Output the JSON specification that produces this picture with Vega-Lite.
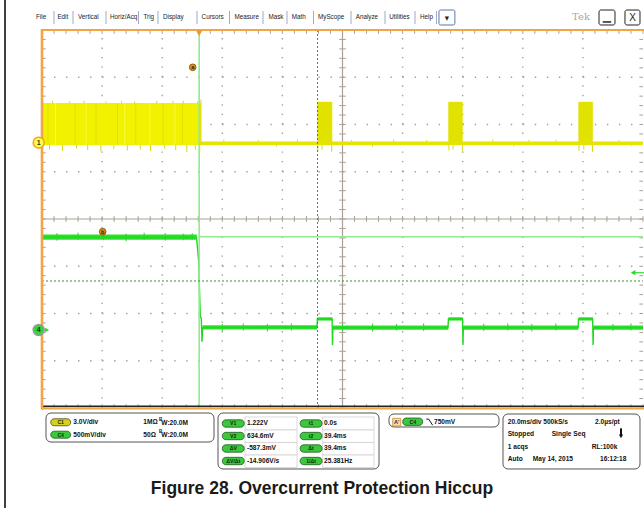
{
  "$schema": "https://vega.github.io/schema/vega-lite/v6.json",
  "width": 601,
  "height": 378,
  "autosize": {"type": "none"},
  "padding": {"left": 42, "top": 30, "right": 1, "bottom": 100},
  "background": "white",
  "config": {"view": {"stroke": null}, "text": {"font": "Liberation Sans"}},
  "datasets": {
    "xt": [{"x":0},{"x":4},{"x":8},{"x":12},{"x":16},{"x":20},{"x":24},{"x":28},{"x":32},{"x":36},{"x":40},{"x":44},{"x":48},{"x":52},{"x":56},{"x":60},{"x":64},{"x":68},{"x":72},{"x":76},{"x":80},{"x":84},{"x":88},{"x":92},{"x":96},{"x":100},{"x":104},{"x":108},{"x":112},{"x":116},{"x":120},{"x":124},{"x":128},{"x":132},{"x":136},{"x":140},{"x":144},{"x":148},{"x":152},{"x":156},{"x":160},{"x":164},{"x":168},{"x":172},{"x":176},{"x":180},{"x":184},{"x":188},{"x":192},{"x":196},{"x":200}],
    "yt": [{"y":-4},{"y":-3.8},{"y":-3.6},{"y":-3.4},{"y":-3.2},{"y":-3},{"y":-2.8},{"y":-2.6},{"y":-2.4},{"y":-2.2},{"y":-2},{"y":-1.8},{"y":-1.6},{"y":-1.4},{"y":-1.2},{"y":-1},{"y":-0.8},{"y":-0.6},{"y":-0.4},{"y":-0.2},{"y":0},{"y":0.2},{"y":0.4},{"y":0.6},{"y":0.8},{"y":1},{"y":1.2},{"y":1.4},{"y":1.6},{"y":1.8},{"y":2},{"y":2.2},{"y":2.4},{"y":2.6},{"y":2.8},{"y":3},{"y":3.2},{"y":3.4},{"y":3.6},{"y":3.8},{"y":4}],
    "gv": [{"x":20,"y":-4,"y2":4},{"x":40,"y":-4,"y2":4},{"x":60,"y":-4,"y2":4},{"x":80,"y":-4,"y2":4},{"x":120,"y":-4,"y2":4},{"x":140,"y":-4,"y2":4},{"x":160,"y":-4,"y2":4},{"x":180,"y":-4,"y2":4}],
    "gh": [{"y":-3,"x":0,"x2":200},{"y":-2,"x":0,"x2":200},{"y":-1,"x":0,"x2":200},{"y":1,"x":0,"x2":200},{"y":2,"x":0,"x2":200},{"y":3,"x":0,"x2":200}],
    "axes": [{"x":100,"x2":100,"y":-4,"y2":4},{"x":0,"x2":200,"y":0,"y2":0}],
    "y1main": [{"x":0,"x2":52.9,"y":1.566,"y2":2.455}],
    "y1burst": [{"x":91.6,"x2":96.6,"y":1.566,"y2":2.48},{"x":135.2,"x2":140.0,"y":1.566,"y2":2.48},{"x":178.5,"x2":183.3,"y":1.566,"y2":2.48}],
    "y1base": [{"x":52.9,"x2":200,"y":1.568,"y2":1.642}],
    "y1light": [{"x":4.5,"y":1.57,"y2":2.45},{"x":14.7,"y":1.57,"y2":2.45},{"x":27.5,"y":1.57,"y2":2.45},{"x":35.9,"y":1.57,"y2":2.45},{"x":44.2,"y":1.57,"y2":2.45}],
    "y1dark": [{"x":2.0,"y":1.57,"y2":2.45},{"x":11.0,"y":1.57,"y2":2.45},{"x":18.0,"y":1.57,"y2":2.45},{"x":25.1,"y":1.57,"y2":2.45},{"x":31.2,"y":1.57,"y2":2.45},{"x":40.3,"y":1.57,"y2":2.45},{"x":46.7,"y":1.57,"y2":2.45}],
    "y1sp": [
      {"x":2.5,"y":1.57,"y2":1.47},{"x":6.8,"y":1.57,"y2":1.44},{"x":11.5,"y":1.57,"y2":1.49},{"x":15.2,"y":1.57,"y2":1.46},{"x":19.6,"y":1.57,"y2":1.43},{"x":23.9,"y":1.57,"y2":1.48},{"x":28.4,"y":1.57,"y2":1.45},{"x":32.7,"y":1.57,"y2":1.47},{"x":36.1,"y":1.57,"y2":1.44},{"x":40.8,"y":1.57,"y2":1.49},{"x":44.5,"y":1.57,"y2":1.46},{"x":48.2,"y":1.57,"y2":1.42},{"x":51.0,"y":1.57,"y2":1.47},
      {"x":3.5,"y":2.45,"y2":2.50},{"x":9.2,"y":2.45,"y2":2.49},{"x":14.0,"y":2.45,"y2":2.50},{"x":21.3,"y":2.45,"y2":2.49},{"x":26.5,"y":2.45,"y2":2.50},{"x":30.8,"y":2.45,"y2":2.49},{"x":38.2,"y":2.45,"y2":2.50},{"x":43.6,"y":2.45,"y2":2.49},{"x":47.0,"y":2.45,"y2":2.50},{"x":51.8,"y":2.45,"y2":2.49},
      {"x":52.9,"y":1.57,"y2":2.53},{"x":52.5,"y":1.57,"y2":1.42},
      {"x":60.5,"y":1.64,"y2":1.68},{"x":72,"y":1.64,"y2":1.67},{"x":85,"y":1.64,"y2":1.68},{"x":103,"y":1.64,"y2":1.67},{"x":117,"y":1.64,"y2":1.68},{"x":128,"y":1.64,"y2":1.67},{"x":150,"y":1.64,"y2":1.68},{"x":162,"y":1.64,"y2":1.67},{"x":171,"y":1.64,"y2":1.68},{"x":192,"y":1.64,"y2":1.67},
      {"x":78,"y":1.57,"y2":1.53},{"x":110,"y":1.57,"y2":1.53},{"x":157,"y":1.57,"y2":1.53},{"x":196,"y":1.57,"y2":1.54},
      {"x":91.8,"y":1.57,"y2":1.43},{"x":93.2,"y":1.57,"y2":1.47},{"x":96.4,"y":1.57,"y2":1.42},{"x":135.4,"y":1.57,"y2":1.45},{"x":136.8,"y":1.57,"y2":1.47},{"x":139.9,"y":1.57,"y2":1.42},{"x":178.7,"y":1.57,"y2":1.44},{"x":180.3,"y":1.57,"y2":1.47},{"x":183.2,"y":1.57,"y2":1.42}
    ],
    "g4band": [{"x":0,"x2":51.5,"y":-0.33,"y2":-0.44},{"x":53.4,"x2":91.55,"y":-2.25,"y2":-2.34},{"x":91.65,"x2":96.6,"y":-2.08,"y2":-2.15},{"x":96.75,"x2":135.15,"y":-2.255,"y2":-2.345},{"x":135.25,"x2":140.05,"y":-2.08,"y2":-2.15},{"x":140.15,"x2":178.45,"y":-2.255,"y2":-2.345},{"x":178.55,"x2":183.35,"y":-2.08,"y2":-2.15},{"x":183.45,"x2":200,"y":-2.255,"y2":-2.345}],
    "g4line": [{"x":0,"y":-0.385},{"x":51.4,"y":-0.39},{"x":51.48,"y":-0.43},{"x":51.81,"y":-0.656},{"x":52.25,"y":-0.974},{"x":52.41,"y":-1.503},{"x":52.68,"y":-2.068},{"x":53.01,"y":-2.095},{"x":53.24,"y":-2.597},{"x":53.44,"y":-2.30},{"x":91.5,"y":-2.28},{"x":91.65,"y":-2.116},{"x":96.55,"y":-2.116},{"x":96.67,"y":-2.667},{"x":96.8,"y":-2.30},{"x":135.1,"y":-2.30},{"x":135.25,"y":-2.116},{"x":139.95,"y":-2.116},{"x":140.1,"y":-2.667},{"x":140.2,"y":-2.30},{"x":178.4,"y":-2.30},{"x":178.55,"y":-2.116},{"x":183.25,"y":-2.116},{"x":183.4,"y":-2.667},{"x":183.5,"y":-2.30},{"x":200,"y":-2.30}],
    "g4sp": [{"x":5,"y":-0.30,"y2":-0.46},{"x":12,"y":-0.29,"y2":-0.44},{"x":20.5,"y":-0.30,"y2":-0.45},{"x":28,"y":-0.31,"y2":-0.47},{"x":34,"y":-0.29,"y2":-0.44},{"x":41,"y":-0.30,"y2":-0.46},{"x":47,"y":-0.31,"y2":-0.45},{"x":50,"y":-0.30,"y2":-0.44},{"x":60,"y":-2.22,"y2":-2.37},{"x":67,"y":-2.21,"y2":-2.36},{"x":75,"y":-2.22,"y2":-2.38},{"x":83,"y":-2.21,"y2":-2.36},{"x":100,"y":-2.22,"y2":-2.37},{"x":110,"y":-2.21,"y2":-2.38},{"x":118,"y":-2.22,"y2":-2.36},{"x":127,"y":-2.21,"y2":-2.37},{"x":147,"y":-2.22,"y2":-2.37},{"x":155,"y":-2.21,"y2":-2.36},{"x":163,"y":-2.22,"y2":-2.38},{"x":171,"y":-2.21,"y2":-2.36},{"x":190,"y":-2.22,"y2":-2.37},{"x":196,"y":-2.21,"y2":-2.36}],
    "cursSolid": [{"x":52.3,"x2":52.3,"y":-4,"y2":4},{"x":52.3,"x2":200,"y":-0.375,"y2":-0.375}],
    "cursDash": [{"x":91.7,"x2":91.7,"y":-4,"y2":4},{"x":0,"x2":200,"y":-1.312,"y2":-1.312}],
    "orangeV": [{"x":0,"x2":0,"y":-4.03,"y2":4.02}],
    "orangeH": [{"x":0,"x2":200.33,"y":4.0,"y2":4.0},{"x":0,"x2":200.33,"y":-4.01,"y2":-4.01}],
    "blackH": [{"x":0,"x2":200.33,"y":-3.965,"y2":-3.965}],
    "figBorder": [{"x":-12.31,"x2":-12.31,"y":-6.12,"y2":4.64}],
    "trigTop": [{"x":52.3,"y":3.93}],
    "trigLvl": [{"x":196.7,"y":-1.137}],
    "trigLvlLine": [{"x":197.3,"x2":200.33,"y":-1.137,"y2":-1.137}],
    "ch1": [{"x":-1.1,"y":1.615,"t":"1"}],
    "ch4": [{"x":-1.1,"y":-2.349,"t":"4"}],
    "ch4arrow": [{"x":1.7,"y":-2.349}],
    "ab": [{"x":50.15,"y":3.211,"t":"a"},{"x":20.2,"y":-0.269,"t":"b"}],
    "menu": [{"x":-2.0,"y":4.265,"t":"File"},{"x":5.12,"y":4.265,"t":"Edit"},{"x":11.98,"y":4.265,"t":"Vertical"},{"x":22.63,"y":4.265,"t":"Horiz/Acq"},{"x":33.78,"y":4.265,"t":"Trig"},{"x":40.27,"y":4.265,"t":"Display"},{"x":53.11,"y":4.265,"t":"Cursors"},{"x":64.03,"y":4.265,"t":"Measure"},{"x":75.34,"y":4.265,"t":"Mask"},{"x":83.13,"y":4.265,"t":"Math"},{"x":91.85,"y":4.265,"t":"MyScope"},{"x":104.39,"y":4.265,"t":"Analyze"},{"x":115.57,"y":4.265,"t":"Utilities"},{"x":125.79,"y":4.265,"t":"Help"}],
    "sep": [{"x":3.99,"y":4.402,"y2":4.127},{"x":10.32,"y":4.402,"y2":4.127},{"x":21.30,"y":4.402,"y2":4.127},{"x":32.11,"y":4.402,"y2":4.127},{"x":38.60,"y":4.402,"y2":4.127},{"x":51.58,"y":4.402,"y2":4.127},{"x":62.40,"y":4.402,"y2":4.127},{"x":73.54,"y":4.402,"y2":4.127},{"x":81.53,"y":4.402,"y2":4.127},{"x":90.35,"y":4.402,"y2":4.127},{"x":102.83,"y":4.402,"y2":4.127},{"x":114.14,"y":4.402,"y2":4.127},{"x":124.13,"y":4.402,"y2":4.127},{"x":131.28,"y":4.402,"y2":4.127}],
    "menubox": [{"x":132.1,"x2":137.4,"y":4.106,"y2":4.423}],
    "winbox": [{"x":185.36,"x2":190.68,"y":4.106,"y2":4.423},{"x":194.0,"x2":199.0,"y":4.106,"y2":4.423}],
    "minusbar": [{"x":186.6,"x2":189.4,"y":4.17,"y2":4.17}],
    "drop": [{"x":134.75,"y":4.26,"t":"▼"}],
    "xbtn": [{"x":196.5,"y":4.26,"t":"X"}],
    "tek": [{"x":176.4,"y":4.265,"t":"Tek"}],
    "boxes": [{"x":1.33,"x2":57.24,"y":-4.106,"y2":-4.720},{"x":58.57,"x2":112.15,"y":-4.106,"y2":-5.291},{"x":115.47,"x2":152.08,"y":-4.127,"y2":-4.402},{"x":153.41,"x2":199.0,"y":-4.127,"y2":-5.291}],
    "cells": [{"x":67.55,"x2":84.86,"y":-4.190,"y2":-4.466},{"x":67.55,"x2":84.86,"y":-4.466,"y2":-4.730},{"x":67.55,"x2":84.86,"y":-4.730,"y2":-4.995},{"x":67.55,"x2":84.86,"y":-4.995,"y2":-5.259},{"x":93.41,"x2":110.48,"y":-4.190,"y2":-4.466},{"x":93.41,"x2":110.48,"y":-4.466,"y2":-4.730},{"x":93.41,"x2":110.48,"y":-4.730,"y2":-4.995},{"x":93.41,"x2":110.48,"y":-4.995,"y2":-5.259}],
    "pillY": [{"x":2.9,"x2":9.55,"y":-4.228,"y2":-4.376}],
    "pillG": [{"x":2.9,"x2":9.55,"y":-4.491,"y2":-4.639},{"x":60.0,"x2":67.3,"y":-4.250,"y2":-4.406},{"x":60.0,"x2":67.3,"y":-4.515,"y2":-4.671},{"x":60.0,"x2":67.3,"y":-4.779,"y2":-4.935},{"x":60.0,"x2":67.3,"y":-5.044,"y2":-5.200},{"x":85.9,"x2":93.2,"y":-4.250,"y2":-4.406},{"x":85.9,"x2":93.2,"y":-4.515,"y2":-4.671},{"x":85.9,"x2":93.2,"y":-4.779,"y2":-4.935},{"x":85.9,"x2":93.2,"y":-5.044,"y2":-5.200},{"x":120.03,"x2":126.69,"y":-4.212,"y2":-4.368}],
    "pillT": [{"x":6.22,"y":-4.302,"t":"C1"},{"x":6.22,"y":-4.565,"t":"C4"},{"x":63.65,"y":-4.328,"t":"V1"},{"x":63.65,"y":-4.593,"t":"V2"},{"x":63.65,"y":-4.857,"t":"ΔV"},{"x":63.65,"y":-5.122,"t":"ΔV/Δt"},{"x":89.55,"y":-4.328,"t":"t1"},{"x":89.55,"y":-4.593,"t":"t2"},{"x":89.55,"y":-4.857,"t":"Δt"},{"x":89.55,"y":-5.122,"t":"1/Δt"},{"x":123.36,"y":-4.290,"t":"C4"}],
    "abox": [{"x":116.71,"x2":119.37,"y":-4.218,"y2":-4.381}],
    "aboxT": [{"x":118.04,"y":-4.30,"t":"A'"}],
    "fe": [{"x":127.9,"y":-4.235},{"x":128.7,"y":-4.236},{"x":130.0,"y":-4.365}],
    "info": [{"x":10.42,"y":-4.302,"t":"3.0V/div"},{"x":10.42,"y":-4.565,"t":"500mV/div"},{"x":33.71,"y":-4.302,"t":"1MΩ"},{"x":33.71,"y":-4.565,"t":"50Ω"},{"x":39.7,"y":-4.312,"t":"W:20.0M"},{"x":39.7,"y":-4.575,"t":"W:20.0M"},
      {"x":68.22,"y":-4.328,"t":"1.222V"},{"x":68.22,"y":-4.593,"t":"634.6mV"},{"x":68.22,"y":-4.857,"t":"-587.3mV"},{"x":68.22,"y":-5.122,"t":"-14.906V/s"},{"x":93.84,"y":-4.328,"t":"0.0s"},{"x":93.84,"y":-4.593,"t":"39.4ms"},{"x":93.84,"y":-4.857,"t":"39.4ms"},{"x":93.84,"y":-5.122,"t":"25.381Hz"},
      {"x":130.45,"y":-4.290,"t":"750mV"},
      {"x":154.98,"y":-4.290,"t":"20.0ms/div 500kS/s"},{"x":184.03,"y":-4.290,"t":"2.0µs/pt"},{"x":154.98,"y":-4.555,"t":"Stopped"},{"x":169.62,"y":-4.555,"t":"Single Seq"},{"x":154.98,"y":-4.819,"t":"1 acqs"},{"x":182.93,"y":-4.819,"t":"RL:100k"},{"x":154.98,"y":-5.086,"t":"Auto"},{"x":163.30,"y":-5.086,"t":"May 14, 2015"},{"x":185.69,"y":-5.086,"t":"16:12:18"}],
    "bsup": [{"x":38.9,"y":-4.25,"t":"B"},{"x":38.9,"y":-4.513,"t":"B"}],
    "darrowLine": [{"x":192.68,"x2":192.68,"y":-4.43,"y2":-4.58}],
    "darrowHead": [{"x":192.68,"y":-4.60}],
    "caption": [{"x":93.18,"y":-5.714,"t":"Figure 28. Overcurrent Protection Hiccup"}]
  },
  "layer": [
    {"data": {"name": "gv"}, "mark": {"type": "rule", "color": "#a0a0a0", "strokeWidth": 1.4, "strokeDash": [1.4, 8.05]},
     "encoding": {"x": {"field": "x", "type": "quantitative", "scale": {"domain": [0, 200], "nice": false, "zero": false}, "axis": null}, "y": {"field": "y", "type": "quantitative", "scale": {"domain": [-4, 4], "nice": false, "zero": false}, "axis": null}, "y2": {"field": "y2"}}},
    {"data": {"name": "gh"}, "mark": {"type": "rule", "color": "#a0a0a0", "strokeWidth": 1.4, "strokeDash": [1.4, 10.62]},
     "encoding": {"x": {"field": "x", "type": "quantitative", "axis": null}, "y": {"field": "y", "type": "quantitative", "axis": null}, "x2": {"field": "x2"}}},
    {"data": {"name": "axes"}, "mark": {"type": "rule", "color": "#a8a094", "strokeWidth": 1.2},
     "encoding": {"x": {"field": "x", "type": "quantitative", "axis": null}, "y": {"field": "y", "type": "quantitative", "axis": null}, "x2": {"field": "x2"}, "y2": {"field": "y2"}}},
    {"data": {"name": "xt"}, "mark": {"type": "rule", "color": "#a8a094", "strokeWidth": 1},
     "encoding": {"x": {"field": "x", "type": "quantitative", "axis": null}, "y": {"datum": -0.06, "type": "quantitative", "axis": null}, "y2": {"datum": 0.06}}},
    {"data": {"name": "xt"}, "mark": {"type": "rule", "color": "#a8a094", "strokeWidth": 1},
     "encoding": {"x": {"field": "x", "type": "quantitative", "axis": null}, "y": {"datum": 4, "type": "quantitative", "axis": null}, "y2": {"datum": 3.92}}},
    {"data": {"name": "xt"}, "mark": {"type": "rule", "color": "#a8a094", "strokeWidth": 1},
     "encoding": {"x": {"field": "x", "type": "quantitative", "axis": null}, "y": {"datum": -4, "type": "quantitative", "axis": null}, "y2": {"datum": -3.92}}},
    {"data": {"name": "yt"}, "mark": {"type": "rule", "color": "#a8a094", "strokeWidth": 1},
     "encoding": {"y": {"field": "y", "type": "quantitative", "axis": null}, "x": {"datum": 98.9, "type": "quantitative", "axis": null}, "x2": {"datum": 101.1}}},
    {"data": {"name": "yt"}, "mark": {"type": "rule", "color": "#a8a094", "strokeWidth": 1},
     "encoding": {"y": {"field": "y", "type": "quantitative", "axis": null}, "x": {"datum": 0, "type": "quantitative", "axis": null}, "x2": {"datum": 1.2}}},
    {"data": {"name": "yt"}, "mark": {"type": "rule", "color": "#a8a094", "strokeWidth": 1},
     "encoding": {"y": {"field": "y", "type": "quantitative", "axis": null}, "x": {"datum": 200, "type": "quantitative", "axis": null}, "x2": {"datum": 198.8}}},

    {"data": {"name": "y1main"}, "mark": {"type": "rect", "color": "#f2f200"},
     "encoding": {"x": {"field": "x", "type": "quantitative", "axis": null}, "y": {"field": "y", "type": "quantitative", "axis": null}, "x2": {"field": "x2"}, "y2": {"field": "y2"}}},
    {"data": {"name": "y1light"}, "mark": {"type": "rule", "color": "#fafa3a", "strokeWidth": 1},
     "encoding": {"x": {"field": "x", "type": "quantitative", "axis": null}, "y": {"field": "y", "type": "quantitative", "axis": null}, "y2": {"field": "y2"}}},
    {"data": {"name": "y1dark"}, "mark": {"type": "rule", "color": "#e0e000", "strokeWidth": 1},
     "encoding": {"x": {"field": "x", "type": "quantitative", "axis": null}, "y": {"field": "y", "type": "quantitative", "axis": null}, "y2": {"field": "y2"}}},
    {"data": {"name": "y1burst"}, "mark": {"type": "rect", "color": "#e2e200"},
     "encoding": {"x": {"field": "x", "type": "quantitative", "axis": null}, "y": {"field": "y", "type": "quantitative", "axis": null}, "x2": {"field": "x2"}, "y2": {"field": "y2"}}},
    {"data": {"name": "y1base"}, "mark": {"type": "rect", "color": "#e4e400"},
     "encoding": {"x": {"field": "x", "type": "quantitative", "axis": null}, "y": {"field": "y", "type": "quantitative", "axis": null}, "x2": {"field": "x2"}, "y2": {"field": "y2"}}},
    {"data": {"name": "y1sp"}, "mark": {"type": "rule", "color": "#d6d61a", "strokeWidth": 1},
     "encoding": {"x": {"field": "x", "type": "quantitative", "axis": null}, "y": {"field": "y", "type": "quantitative", "axis": null}, "y2": {"field": "y2"}}},

    {"data": {"name": "g4band"}, "mark": {"type": "rect", "color": "#2ee02e"},
     "encoding": {"x": {"field": "x", "type": "quantitative", "axis": null}, "y": {"field": "y", "type": "quantitative", "axis": null}, "x2": {"field": "x2"}, "y2": {"field": "y2"}}},
    {"data": {"name": "g4sp"}, "mark": {"type": "rule", "color": "#2ad82a", "strokeWidth": 1},
     "encoding": {"x": {"field": "x", "type": "quantitative", "axis": null}, "y": {"field": "y", "type": "quantitative", "axis": null}, "y2": {"field": "y2"}}},
    {"data": {"name": "g4line"}, "mark": {"type": "line", "color": "#1fd81f", "strokeWidth": 1.4},
     "encoding": {"x": {"field": "x", "type": "quantitative", "axis": null}, "y": {"field": "y", "type": "quantitative", "axis": null}}},

    {"data": {"name": "cursSolid"}, "mark": {"type": "rule", "color": "#92ea92", "strokeWidth": 1.6},
     "encoding": {"x": {"field": "x", "type": "quantitative", "axis": null}, "y": {"field": "y", "type": "quantitative", "axis": null}, "x2": {"field": "x2"}, "y2": {"field": "y2"}}},
    {"data": {"name": "cursDash"}, "mark": {"type": "rule", "color": "#2a9e2a", "strokeWidth": 1, "strokeDash": [2, 2]},
     "encoding": {"x": {"field": "x", "type": "quantitative", "axis": null}, "y": {"field": "y", "type": "quantitative", "axis": null}, "x2": {"field": "x2"}, "y2": {"field": "y2"}}},

    {"data": {"name": "blackH"}, "mark": {"type": "rule", "color": "#222222", "strokeWidth": 1.5},
     "encoding": {"x": {"field": "x", "type": "quantitative", "axis": null}, "y": {"field": "y", "type": "quantitative", "axis": null}, "x2": {"field": "x2"}, "y2": {"field": "y2"}}},
    {"data": {"name": "orangeH"}, "mark": {"type": "rule", "color": "#f3a444", "strokeWidth": 2.2},
     "encoding": {"x": {"field": "x", "type": "quantitative", "axis": null}, "y": {"field": "y", "type": "quantitative", "axis": null}, "x2": {"field": "x2"}, "y2": {"field": "y2"}}},
    {"data": {"name": "orangeV"}, "mark": {"type": "rule", "color": "#f3a444", "strokeWidth": 2.6},
     "encoding": {"x": {"field": "x", "type": "quantitative", "axis": null}, "y": {"field": "y", "type": "quantitative", "axis": null}, "x2": {"field": "x2"}, "y2": {"field": "y2"}}},
    {"data": {"name": "figBorder"}, "mark": {"type": "rule", "color": "#000000", "strokeWidth": 1.5},
     "encoding": {"x": {"field": "x", "type": "quantitative", "axis": null}, "y": {"field": "y", "type": "quantitative", "axis": null}, "x2": {"field": "x2"}, "y2": {"field": "y2"}}},

    {"data": {"name": "trigTop"}, "mark": {"type": "point", "shape": "triangle-down", "filled": true, "size": 40, "color": "#e89a30", "opacity": 1},
     "encoding": {"x": {"field": "x", "type": "quantitative", "axis": null}, "y": {"field": "y", "type": "quantitative", "axis": null}}},
    {"data": {"name": "trigLvlLine"}, "mark": {"type": "rule", "color": "#33dd33", "strokeWidth": 1.2},
     "encoding": {"x": {"field": "x", "type": "quantitative", "axis": null}, "y": {"field": "y", "type": "quantitative", "axis": null}, "x2": {"field": "x2"}, "y2": {"field": "y2"}}},
    {"data": {"name": "trigLvl"}, "mark": {"type": "point", "shape": "triangle-left", "filled": true, "size": 28, "color": "#22dd22", "opacity": 1},
     "encoding": {"x": {"field": "x", "type": "quantitative", "axis": null}, "y": {"field": "y", "type": "quantitative", "axis": null}}},
    {"data": {"name": "ch1"}, "mark": {"type": "point", "shape": "circle", "filled": true, "size": 121, "fill": "#ffff40", "stroke": "#eea030", "strokeWidth": 1.5, "opacity": 1},
     "encoding": {"x": {"field": "x", "type": "quantitative", "axis": null}, "y": {"field": "y", "type": "quantitative", "axis": null}}},
    {"data": {"name": "ch1"}, "mark": {"type": "text", "fontSize": 7, "fontWeight": "bold", "color": "#333333", "align": "center", "baseline": "middle"},
     "encoding": {"x": {"field": "x", "type": "quantitative", "axis": null}, "y": {"field": "y", "type": "quantitative", "axis": null}, "text": {"field": "t"}}},
    {"data": {"name": "ch4arrow"}, "mark": {"type": "point", "shape": "triangle-right", "filled": true, "size": 22, "color": "#22dd22", "opacity": 1},
     "encoding": {"x": {"field": "x", "type": "quantitative", "axis": null}, "y": {"field": "y", "type": "quantitative", "axis": null}}},
    {"data": {"name": "ch4"}, "mark": {"type": "point", "shape": "circle", "filled": true, "size": 121, "fill": "#33d633", "stroke": "#9a9a9a", "strokeWidth": 1.5, "opacity": 1},
     "encoding": {"x": {"field": "x", "type": "quantitative", "axis": null}, "y": {"field": "y", "type": "quantitative", "axis": null}}},
    {"data": {"name": "ch4"}, "mark": {"type": "text", "fontSize": 7, "fontWeight": "bold", "color": "#1a3a1a", "align": "center", "baseline": "middle"},
     "encoding": {"x": {"field": "x", "type": "quantitative", "axis": null}, "y": {"field": "y", "type": "quantitative", "axis": null}, "text": {"field": "t"}}},
    {"data": {"name": "ab"}, "mark": {"type": "point", "shape": "circle", "filled": true, "size": 45, "fill": "#e88c10", "stroke": "#7a4a10", "strokeWidth": 0.8, "opacity": 1},
     "encoding": {"x": {"field": "x", "type": "quantitative", "axis": null}, "y": {"field": "y", "type": "quantitative", "axis": null}}},
    {"data": {"name": "ab"}, "mark": {"type": "text", "fontSize": 5.5, "fontWeight": "bold", "color": "#222222", "align": "center", "baseline": "middle"},
     "encoding": {"x": {"field": "x", "type": "quantitative", "axis": null}, "y": {"field": "y", "type": "quantitative", "axis": null}, "text": {"field": "t"}}},

    {"data": {"name": "menu"}, "mark": {"type": "text", "fontSize": 6.3, "color": "#222222", "align": "left", "baseline": "middle"},
     "encoding": {"x": {"field": "x", "type": "quantitative", "axis": null}, "y": {"field": "y", "type": "quantitative", "axis": null}, "text": {"field": "t"}}},
    {"data": {"name": "sep"}, "mark": {"type": "rule", "color": "#9aaccc", "strokeWidth": 1},
     "encoding": {"x": {"field": "x", "type": "quantitative", "axis": null}, "y": {"field": "y", "type": "quantitative", "axis": null}, "y2": {"field": "y2"}}},
    {"data": {"name": "menubox"}, "mark": {"type": "rect", "fill": "#ffffff", "stroke": "#5a78a8", "strokeWidth": 1, "cornerRadius": 1.5},
     "encoding": {"x": {"field": "x", "type": "quantitative", "axis": null}, "y": {"field": "y", "type": "quantitative", "axis": null}, "x2": {"field": "x2"}, "y2": {"field": "y2"}}},
    {"data": {"name": "drop"}, "mark": {"type": "text", "fontSize": 5.5, "color": "#222222", "align": "center", "baseline": "middle", "font": "DejaVu Sans"},
     "encoding": {"x": {"field": "x", "type": "quantitative", "axis": null}, "y": {"field": "y", "type": "quantitative", "axis": null}, "text": {"field": "t"}}},
    {"data": {"name": "winbox"}, "mark": {"type": "rect", "fill": "#ffffff", "stroke": "#222222", "strokeWidth": 1, "cornerRadius": 2},
     "encoding": {"x": {"field": "x", "type": "quantitative", "axis": null}, "y": {"field": "y", "type": "quantitative", "axis": null}, "x2": {"field": "x2"}, "y2": {"field": "y2"}}},
    {"data": {"name": "minusbar"}, "mark": {"type": "rule", "color": "#222222", "strokeWidth": 1.5},
     "encoding": {"x": {"field": "x", "type": "quantitative", "axis": null}, "y": {"field": "y", "type": "quantitative", "axis": null}, "x2": {"field": "x2"}, "y2": {"field": "y2"}}},
    {"data": {"name": "xbtn"}, "mark": {"type": "text", "fontSize": 10, "color": "#222222", "align": "center", "baseline": "middle"},
     "encoding": {"x": {"field": "x", "type": "quantitative", "axis": null}, "y": {"field": "y", "type": "quantitative", "axis": null}, "text": {"field": "t"}}},
    {"data": {"name": "tek"}, "mark": {"type": "text", "fontSize": 10, "color": "#a8a8a8", "align": "left", "baseline": "middle", "font": "DejaVu Serif"},
     "encoding": {"x": {"field": "x", "type": "quantitative", "axis": null}, "y": {"field": "y", "type": "quantitative", "axis": null}, "text": {"field": "t"}}},

    {"data": {"name": "boxes"}, "mark": {"type": "rect", "fill": "#ffffff", "stroke": "#555555", "strokeWidth": 1, "cornerRadius": 5},
     "encoding": {"x": {"field": "x", "type": "quantitative", "axis": null}, "y": {"field": "y", "type": "quantitative", "axis": null}, "x2": {"field": "x2"}, "y2": {"field": "y2"}}},
    {"data": {"name": "cells"}, "mark": {"type": "rect", "fill": "#ffffff", "stroke": "#d0d0d0", "strokeWidth": 0.8},
     "encoding": {"x": {"field": "x", "type": "quantitative", "axis": null}, "y": {"field": "y", "type": "quantitative", "axis": null}, "x2": {"field": "x2"}, "y2": {"field": "y2"}}},
    {"data": {"name": "pillY"}, "mark": {"type": "rect", "fill": "#d8d020", "stroke": "#4a4a10", "strokeWidth": 0.8, "cornerRadius": 3.5},
     "encoding": {"x": {"field": "x", "type": "quantitative", "axis": null}, "y": {"field": "y", "type": "quantitative", "axis": null}, "x2": {"field": "x2"}, "y2": {"field": "y2"}}},
    {"data": {"name": "pillG"}, "mark": {"type": "rect", "fill": "#3cc83c", "stroke": "#1e5a1e", "strokeWidth": 0.8, "cornerRadius": 3.5},
     "encoding": {"x": {"field": "x", "type": "quantitative", "axis": null}, "y": {"field": "y", "type": "quantitative", "axis": null}, "x2": {"field": "x2"}, "y2": {"field": "y2"}}},
    {"data": {"name": "pillT"}, "mark": {"type": "text", "fontSize": 5.2, "fontWeight": "bold", "color": "#0d2a0d", "align": "center", "baseline": "middle"},
     "encoding": {"x": {"field": "x", "type": "quantitative", "axis": null}, "y": {"field": "y", "type": "quantitative", "axis": null}, "text": {"field": "t"}}},
    {"data": {"name": "abox"}, "mark": {"type": "rect", "fill": "#f6dcae", "stroke": "#d08a30", "strokeWidth": 0.8},
     "encoding": {"x": {"field": "x", "type": "quantitative", "axis": null}, "y": {"field": "y", "type": "quantitative", "axis": null}, "x2": {"field": "x2"}, "y2": {"field": "y2"}}},
    {"data": {"name": "aboxT"}, "mark": {"type": "text", "fontSize": 5.5, "fontWeight": "bold", "color": "#333333", "align": "center", "baseline": "middle"},
     "encoding": {"x": {"field": "x", "type": "quantitative", "axis": null}, "y": {"field": "y", "type": "quantitative", "axis": null}, "text": {"field": "t"}}},
    {"data": {"name": "fe"}, "mark": {"type": "line", "color": "#111111", "strokeWidth": 1},
     "encoding": {"x": {"field": "x", "type": "quantitative", "axis": null}, "y": {"field": "y", "type": "quantitative", "axis": null}}},
    {"data": {"name": "info"}, "mark": {"type": "text", "fontSize": 6.6, "fontWeight": "bold", "color": "#111111", "align": "left", "baseline": "middle"},
     "encoding": {"x": {"field": "x", "type": "quantitative", "axis": null}, "y": {"field": "y", "type": "quantitative", "axis": null}, "text": {"field": "t"}}},
    {"data": {"name": "bsup"}, "mark": {"type": "text", "fontSize": 4.5, "fontWeight": "bold", "color": "#111111", "align": "left", "baseline": "middle"},
     "encoding": {"x": {"field": "x", "type": "quantitative", "axis": null}, "y": {"field": "y", "type": "quantitative", "axis": null}, "text": {"field": "t"}}},
    {"data": {"name": "darrowLine"}, "mark": {"type": "rule", "color": "#111111", "strokeWidth": 2},
     "encoding": {"x": {"field": "x", "type": "quantitative", "axis": null}, "y": {"field": "y", "type": "quantitative", "axis": null}, "x2": {"field": "x2"}, "y2": {"field": "y2"}}},
    {"data": {"name": "darrowHead"}, "mark": {"type": "point", "shape": "triangle-down", "filled": true, "size": 18, "color": "#111111", "opacity": 1},
     "encoding": {"x": {"field": "x", "type": "quantitative", "axis": null}, "y": {"field": "y", "type": "quantitative", "axis": null}}},
    {"data": {"name": "caption"}, "mark": {"type": "text", "fontSize": 17.5, "fontWeight": "bold", "color": "#1a1a1a", "align": "center", "baseline": "middle", "font": "Liberation Sans Narrow, Arial Narrow, Liberation Sans, sans-serif"},
     "encoding": {"x": {"field": "x", "type": "quantitative", "axis": null}, "y": {"field": "y", "type": "quantitative", "axis": null}, "text": {"field": "t"}}}
  ]
}
